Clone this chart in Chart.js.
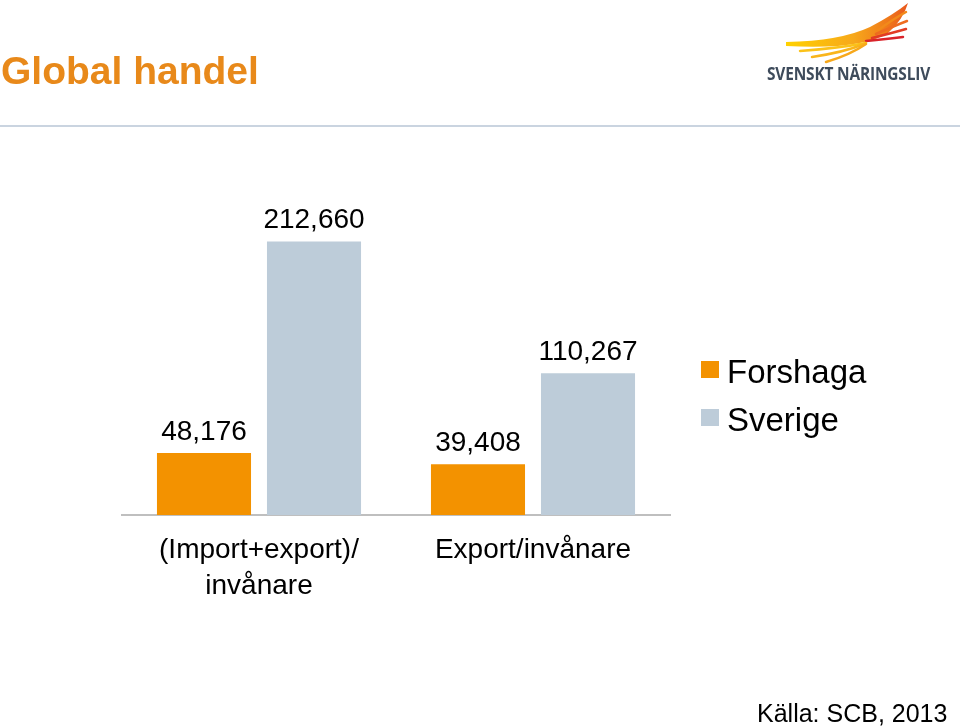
<!DOCTYPE html>
<html>
<head>
<meta charset="utf-8">
<script src="https://cdn.jsdelivr.net/npm/chart.js@4/dist/chart.umd.min.js"></script>
<style>
html,body{margin:0;padding:0;background:#fff;width:960px;height:728px;overflow:hidden;font-family:"Liberation Sans",Arial,sans-serif;}
#wrap{position:relative;width:960px;height:728px;}
#c{position:absolute;left:0;top:0;}
.title{position:absolute;left:1px;top:51px;font-weight:bold;font-size:39px;line-height:39px;color:#E8891A;white-space:nowrap;}
.rule{position:absolute;left:0;top:125px;width:960px;height:2px;background:#CAD4E0;}
.source{position:absolute;left:757px;top:701px;font-size:25px;line-height:25px;color:#000;white-space:nowrap;}
.logotext{position:absolute;left:767px;top:65px;font-family:"Open Sans",sans-serif;font-weight:bold;font-size:17px;line-height:17px;color:#3E4B5B;white-space:nowrap;transform-origin:0 0;letter-spacing:-0.2px;}
svg.bird{position:absolute;left:0;top:0;}
</style>
</head>
<body>
<div id="wrap">
<canvas id="c" width="960" height="728"></canvas>
<div class="title">Global handel</div>
<svg class="bird" width="960" height="128" viewBox="0 0 960 128">
<defs>
<linearGradient id="gw" x1="785" y1="0" x2="910" y2="0" gradientUnits="userSpaceOnUse">
<stop offset="0" stop-color="#FFD200"/>
<stop offset="0.55" stop-color="#F7A81B"/>
<stop offset="0.8" stop-color="#F07D1A"/>
<stop offset="1" stop-color="#E8541E"/>
</linearGradient>
</defs>
<path d="M786,42 Q840,41 870,27 Q893,15 908,3 Q903,20 888,33 Q862,50 786,46 Z" fill="url(#gw)"/>
<g stroke-linecap="round" fill="none">
<path d="M878,30 Q895,18 906,12" stroke="#F28A1A" stroke-width="2.5"/>
<path d="M876,34 Q894,26 907,21" stroke="#EE6B1F" stroke-width="2.5"/>
<path d="M872,38 Q892,33 906,29" stroke="#E23B24" stroke-width="2.5"/>
<path d="M866,41 Q887,39 903,37" stroke="#D9232A" stroke-width="2.5"/>
<path d="M866,43 Q840,48 800,51" stroke="#FBC21A" stroke-width="2.5"/>
<path d="M864,44 Q845,52 812,57" stroke="#F9B51B" stroke-width="2.5"/>
<path d="M866,44 Q850,55 826,62" stroke="#F7A81B" stroke-width="2.5"/>
</g>
</svg>
<div class="logotext" id="logotext">SVENSKT NÄRINGSLIV</div>
<div class="rule"></div>
<div class="source">Källa: SCB, 2013</div>
</div>
<script>
// Data
const categories = [["(Import+export)/", "invånare"], "Export/invånare"];
const seriesNames = ["Forshaga", "Sverige"];
const forshagaValues = [48176, 39408];
const sverigeValues = [212660, 110267];
const seriesColors = ["#F39200", "#BDCCD9"];

const FONT = '"Liberation Sans", Arial, sans-serif';

// Fit logo text width
(function(){
  const el = document.getElementById('logotext');
  const w = el.getBoundingClientRect().width;
  if (w > 0) el.style.transform = 'scaleX(' + (163 / w) + ')';
})();

const valueLabels = {
  id: 'valueLabels',
  afterDatasetsDraw(chart) {
    const ctx = chart.ctx;
    ctx.save();
    ctx.font = '28px ' + FONT;
    ctx.fillStyle = '#000';
    ctx.textAlign = 'center';
    ctx.textBaseline = 'alphabetic';
    chart.data.datasets.forEach((ds, i) => {
      chart.getDatasetMeta(i).data.forEach((el, j) => {
        ctx.fillText(ds.data[j].toLocaleString('en-US'), el.x, el.y - 13);
      });
    });
    ctx.restore();
  }
};

const sideLegend = {
  id: 'sideLegend',
  afterDraw(chart) {
    const ctx = chart.ctx;
    const ca = chart.chartArea;
    const x0 = ca.right + 31;
    ctx.save();
    ctx.font = '33px ' + FONT;
    ctx.textBaseline = 'alphabetic';
    ctx.textAlign = 'left';
    chart.data.datasets.forEach((ds, i) => {
      const base = 383 + i * 48;
      ctx.fillStyle = ds.backgroundColor;
      ctx.fillRect(x0, base - 22, 18, 17);
      ctx.fillStyle = '#000';
      ctx.fillText(ds.label, x0 + 26, base);
    });
    ctx.restore();
  }
};

new Chart(document.getElementById('c'), {
  type: 'bar',
  data: {
    labels: categories,
    datasets: [
      { label: seriesNames[0], data: forshagaValues, backgroundColor: seriesColors[0], categoryPercentage: 0.803, barPercentage: 0.855 },
      { label: seriesNames[1], data: sverigeValues, backgroundColor: seriesColors[1], categoryPercentage: 0.803, barPercentage: 0.855 }
    ]
  },
  options: {
    responsive: false,
    animation: false,
    layout: { padding: { left: 122, right: 290, top: 160, bottom: 113 } },
    plugins: { legend: { display: false }, tooltip: { enabled: false } },
    scales: {
      x: {
        grid: { display: false, drawTicks: false },
        border: { display: true, color: '#BFBFBF', width: 2 },
        ticks: { color: '#000', font: { family: FONT, size: 28, lineHeight: 1.3 }, padding: 17, maxRotation: 0, autoSkip: false },
        afterFit(s) { s.height = 100; }
      },
      y: { display: false, min: 0, max: 276000 }
    }
  },
  plugins: [valueLabels, sideLegend]
});
</script>
</body>
</html>
